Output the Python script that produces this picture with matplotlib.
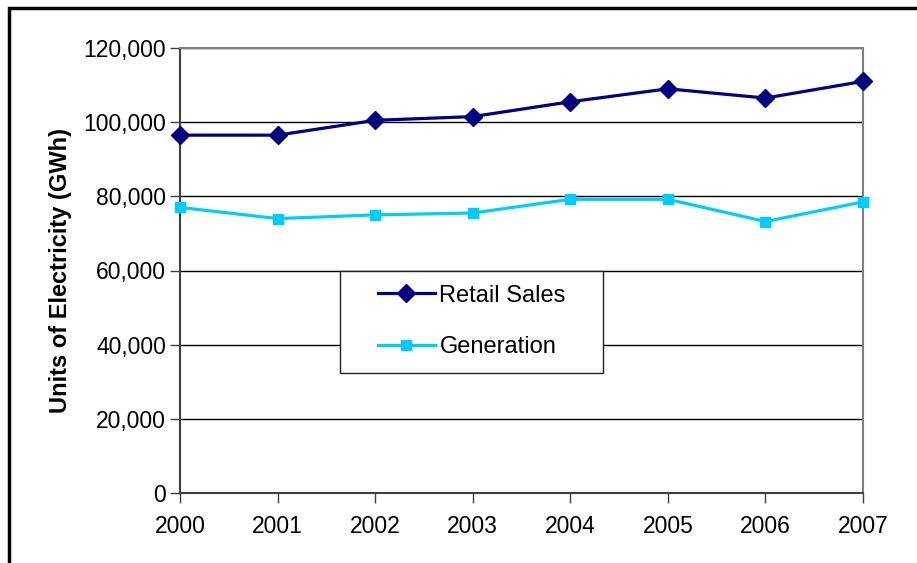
import matplotlib
matplotlib.use("Agg")
import matplotlib.pyplot as plt
from matplotlib.patches import Rectangle
from matplotlib.ticker import FuncFormatter

years = [2000, 2001, 2002, 2003, 2004, 2005, 2006, 2007]
retail_sales = [96500, 96500, 100500, 101500, 105500, 109000, 106500, 111000]
generation = [77000, 74000, 75000, 75500, 79200, 79200, 73200, 78500]

plt.rcParams['font.family'] = ['Liberation Sans', 'DejaVu Sans']

W, H = 917, 563
fig = plt.figure(figsize=(W / 100, H / 100), dpi=100)
ax = fig.add_axes([180 / W, 1 - 493 / H, (863 - 180) / W, (493 - 48) / H])

ax.plot(years, retail_sales, color='#000080', lw=2.3, marker='D', ms=9,
        label='Retail Sales', clip_on=False, zorder=4)
ax.plot(years, generation, color='#00CCFF', lw=2.3, marker='s', ms=7,
        label='Generation', clip_on=False, zorder=4)

ax.set_xlim(2000, 2007)
ax.set_ylim(0, 120000)
ax.set_xticks(years)
ax.set_yticks(range(0, 120001, 20000))
ax.yaxis.set_major_formatter(FuncFormatter(lambda v, p: f"{int(v):,}"))
ax.yaxis.grid(True, color='black', lw=1)
ax.set_axisbelow(True)
ax.tick_params(axis='both', direction='out', length=7, width=1, colors='#404040',
               labelcolor='black', labelsize=16.5)
ax.tick_params(axis='x', pad=9)
ax.tick_params(axis='y', pad=3)
for s in ['left', 'bottom']:
    ax.spines[s].set_color('#404040')
    ax.spines[s].set_linewidth(1.5)
for s in ['top', 'right']:
    ax.spines[s].set_color('#808080')
    ax.spines[s].set_linewidth(1.5)

ax.set_ylabel('Units of Electricity (GWh)', fontsize=17, fontweight='bold', labelpad=8)

# legend box drawn separately so the entries can sit inside it freely
def ax_x(px):
    return (px - 180) / (863 - 180)

def ax_y(py):
    return (493 - py) / (493 - 48)

ax.add_patch(Rectangle((ax_x(340), ax_y(373)), ax_x(603) - ax_x(340), ax_y(271) - ax_y(373),
                       transform=ax.transAxes, facecolor='white', edgecolor='#202020',
                       lw=1, zorder=5))
leg = ax.legend(loc='center left', bbox_to_anchor=(ax_x(378), ax_y(321.5)),
                fontsize=17, frameon=False, borderpad=0, borderaxespad=0,
                labelspacing=1.25, handlelength=2.4, handletextpad=0.2)
leg.set_zorder(6)

fig.patches.append(Rectangle((9 / W, -0.1), 1.2, 1 - 8 / H + 0.1, transform=fig.transFigure,
                             fill=False, edgecolor='black', lw=2.5))

fig.savefig('out.png', dpi=100)
